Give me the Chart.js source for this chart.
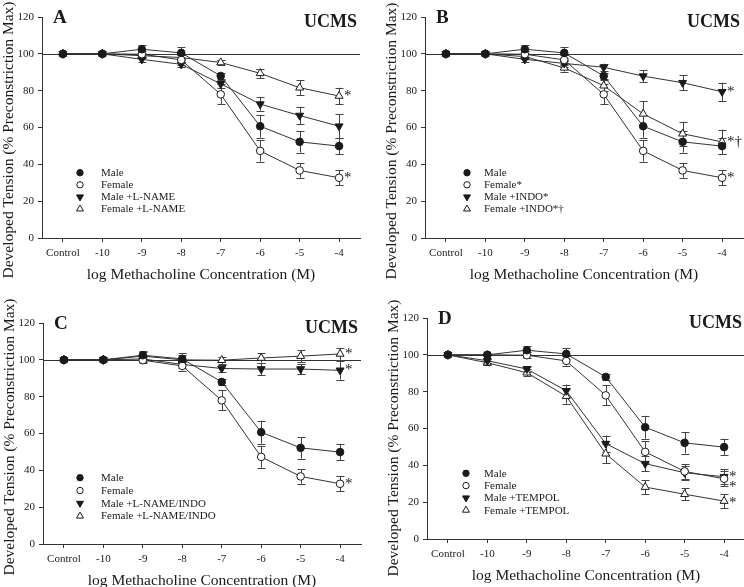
<!DOCTYPE html>
<html>
<head>
<meta charset="utf-8">
<script src="https://cdn.jsdelivr.net/npm/chart.js"></script>
<style>
  html, body { margin: 0; padding: 0; background: #fff; }
  body { position: relative; width: 744px; height: 587px; overflow: hidden; }
  canvas { position: absolute; }
</style>
</head>
<body>
<canvas id="panelA" width="384" height="290" style="left:0px;top:0px"></canvas>
<canvas id="panelB" width="384" height="290" style="left:383px;top:0px"></canvas>
<canvas id="panelC" width="384" height="306" style="left:1px;top:290px"></canvas>
<canvas id="panelD" width="384" height="301" style="left:385px;top:290px"></canvas>
<script>
// --- data ---
const doseLabels = ['Control', '-10', '-9', '-8', '-7', '-6', '-5', '-4'];
const yTicks = [0, 20, 40, 60, 80, 100, 120];

// shared control curves (same in every panel)
const male = [100, 100, 102.5, 100.5, 88, 60.7, 52.2, 49.9];
const maleSem = [0, 0, 2.2, 3, 1.5, 6.2, 5.8, 4.5];
const female = [100, 100, 99.8, 96.7, 78, 47.3, 36.7, 32.7];
const femaleSem = [0, 0, 1.5, 2.5, 5.5, 5.8, 4, 4];

// A: L-NAME
const maleLname = [100, 100, 97, 94.3, 83.7, 72.7, 66.5, 60.7];
const maleLnameSem = [0, 0, 1.2, 1.5, 2, 3.6, 4.8, 6.6];
const femaleLname = [100, 100, 99, 98, 95.3, 89.4, 81.6, 77.1];
const femaleLnameSem = [0, 0, 1, 1.2, 1.2, 2.5, 4, 4.5];

// B: INDO
const maleIndo = [100, 100, 97, 94.8, 92.7, 87.9, 84.3, 79.4];
const maleIndoSem = [0, 0, 1.5, 2, 2, 3.4, 4.2, 5];
const femaleIndo = [100, 100, 98.5, 92.4, 82.7, 67.4, 56.6, 52.2];
const femaleIndoSem = [0, 0, 1.2, 2, 3, 6.8, 6.5, 6.7];

// C: L-NAME/INDO
const maleBoth = [100, 100, 100.5, 97.5, 95.3, 95, 95, 94.3];
const maleBothSem = [0, 0, 1.5, 2, 2, 3.3, 2.7, 5];
const femaleBoth = [100, 100, 102, 100, 99.8, 101, 102, 103.2];
const femaleBothSem = [0, 0, 2, 2.5, 2, 2.5, 3.3, 3.3];

// D: TEMPOL
const maleTempol = [100, 96.8, 92.3, 80.5, 51.8, 40.9, 36, 33.8];
const maleTempolSem = [0, 1, 1.5, 3.3, 4.3, 4.2, 3.8, 4];
const femaleTempol = [100, 95.7, 90.3, 77.5, 46.3, 28.2, 24.3, 20.6];
const femaleTempolSem = [0, 1, 1.8, 4, 5.3, 3.8, 3.2, 3.9];

// --- styles ---
const serif = '"Liberation Serif", "Times New Roman", serif';
const ink = '#1a1a1a';
const lineInk = '#333';

const markers = {
  filledCircle: { pointStyle: 'circle', rotation: 0, radius: 3.8, fill: ink },
  openCircle:   { pointStyle: 'circle', rotation: 0, radius: 3.8, fill: '#fff' },
  filledDown:   { pointStyle: 'triangle', rotation: 180, radius: 4.6, fill: ink },
  openUp:       { pointStyle: 'triangle', rotation: 0, radius: 4.6, fill: '#fff' }
};

function series(label, values, sem, marker) {
  return {
    label,
    data: values.map((v, i) => ({ x: i, y: v })),
    sem,
    borderColor: lineInk,
    borderWidth: 1,
    tension: 0,
    pointStyle: marker.pointStyle,
    pointRotation: marker.rotation,
    pointRadius: marker.radius,
    pointBackgroundColor: marker.fill,
    pointBorderColor: ink,
    pointBorderWidth: 1,
    marker
  };
}

const panels = [
  {
    id: 'panelA', letter: 'A', padTop: 17, titleY: 140,
    legend: { x: 38, tx: 59, y: 155.7, gap: 12.1 },
    datasets: [
      series('Male', male, maleSem, markers.filledCircle),
      series('Female', female, femaleSem, markers.openCircle),
      series('Male +L-NAME', maleLname, maleLnameSem, markers.filledDown),
      series('Female +L-NAME', femaleLname, femaleLnameSem, markers.openUp)
    ],
    marks: [{ ds: 1, text: '*', dy: 0 }, { ds: 3, text: '*', dy: 0 }]
  },
  {
    id: 'panelB', letter: 'B', padTop: 17, titleY: 141,
    legend: { x: 42, tx: 59, y: 155.7, gap: 12.1 },
    datasets: [
      series('Male', male, maleSem, markers.filledCircle),
      series('Female*', female, femaleSem, markers.openCircle),
      series('Male +INDO*', maleIndo, maleIndoSem, markers.filledDown),
      series('Female +INDO*\u2020', femaleIndo, femaleIndoSem, markers.openUp)
    ],
    marks: [{ ds: 1, text: '*', dy: 0 }, { ds: 2, text: '*', dy: 0 }, { ds: 3, text: '*\u2020', dy: 0 }]
  },
  {
    id: 'panelC', letter: 'C', padTop: 33, titleY: 147,
    legend: { x: 37, tx: 58, y: 154.7, gap: 12.8 },
    datasets: [
      series('Male', male, maleSem, markers.filledCircle),
      series('Female', female, femaleSem, markers.openCircle),
      series('Male +L-NAME/INDO', maleBoth, maleBothSem, markers.filledDown),
      series('Female +L-NAME/INDO', femaleBoth, femaleBothSem, markers.openUp)
    ],
    marks: [{ ds: 1, text: '*', dy: 0 }, { ds: 2, text: '*', dy: 0 }, { ds: 3, text: '*', dy: 0 }]
  },
  {
    id: 'panelD', letter: 'D', padTop: 28, titleY: 148,
    legend: { x: 39, tx: 57, y: 155.3, gap: 12.3 },
    datasets: [
      series('Male', male, maleSem, markers.filledCircle),
      series('Female', female, femaleSem, markers.openCircle),
      series('Male +TEMPOL', maleTempol, maleTempolSem, markers.filledDown),
      series('Female +TEMPOL', femaleTempol, femaleTempolSem, markers.openUp)
    ],
    marks: [{ ds: 2, text: '*', dy: 0 }, { ds: 1, text: '*', dy: 8.7 }, { ds: 3, text: '*', dy: 2.3 }]
  }
];

// draws the 100% line, error bars, panel letter, UCMS, y title, legend and asterisks
function makeDecor(panel) {
  return {
    id: 'decor',
    beforeDatasetsDraw(chart) {
      const { ctx, chartArea, scales: { y } } = chart;
      ctx.save();
      ctx.strokeStyle = lineInk;
      ctx.lineWidth = 1;
      const y100 = Math.round(y.getPixelForValue(100)) + 0.5;
      ctx.beginPath();
      ctx.moveTo(chartArea.left, y100);
      ctx.lineTo(chartArea.right, y100);
      ctx.stroke();

      ctx.strokeStyle = '#444';
      chart.data.datasets.forEach((ds, i) => {
        const meta = chart.getDatasetMeta(i);
        ds.sem.forEach((e, j) => {
          if (!e) return;
          const px = Math.round(meta.data[j].x) + 0.5;
          const v = ds.data[j].y;
          const top = y.getPixelForValue(v + e);
          const bot = y.getPixelForValue(v - e);
          ctx.beginPath();
          ctx.moveTo(px, top); ctx.lineTo(px, bot);
          ctx.moveTo(px - 4, Math.round(top) + 0.5); ctx.lineTo(px + 4, Math.round(top) + 0.5);
          ctx.moveTo(px - 4, Math.round(bot) + 0.5); ctx.lineTo(px + 4, Math.round(bot) + 0.5);
          ctx.stroke();
        });
      });
      ctx.restore();
    },
    afterDraw(chart) {
      const { ctx, chartArea } = chart;
      ctx.save();
      ctx.fillStyle = ink;

      // panel letter and group tag
      ctx.textBaseline = 'alphabetic';
      ctx.textAlign = 'left';
      ctx.font = 'bold 19px ' + serif;
      ctx.fillText(panel.letter, chartArea.left + 11, chartArea.top + 6.3);
      ctx.textAlign = 'right';
      ctx.font = 'bold 18px ' + serif;
      ctx.fillText('UCMS', chartArea.right - 3, chartArea.top + 10);

      // y axis title
      ctx.save();
      ctx.translate(9, panel.titleY);
      ctx.rotate(-Math.PI / 2);
      ctx.textAlign = 'center';
      ctx.textBaseline = 'middle';
      ctx.font = '15.5px ' + serif;
      ctx.fillText('Developed Tension (% Preconstriction Max)', 0, 0);
      ctx.restore();

      // legend
      const lg = panel.legend;
      ctx.font = '11px ' + serif;
      ctx.textAlign = 'left';
      ctx.textBaseline = 'middle';
      chart.data.datasets.forEach((ds, i) => {
        const ly = chartArea.top + lg.y + i * lg.gap;
        const mk = ds.marker;
        ctx.fillStyle = mk.fill;
        ctx.strokeStyle = ink;
        ctx.lineWidth = 1;
        Chart.helpers.drawPoint(ctx, {
          pointStyle: mk.pointStyle, rotation: mk.rotation,
          radius: mk.radius - 0.6, borderWidth: 1
        }, chartArea.left + lg.x, ly);
        ctx.fillStyle = ink;
        ctx.fillText(ds.label, chartArea.left + lg.tx, ly + 0.5);
      });

      // significance marks at the last dose
      ctx.font = '15px ' + serif;
      ctx.textBaseline = 'alphabetic';
      panel.marks.forEach(m => {
        const pt = chart.getDatasetMeta(m.ds).data[doseLabels.length - 1];
        ctx.fillText(m.text, pt.x + 5, pt.y + 4 + m.dy);
      });
      ctx.restore();
    }
  };
}

function buildChart(panel) {
  const ctx = document.getElementById(panel.id).getContext('2d');
  return new Chart(ctx, {
    type: 'line',
    data: { datasets: panel.datasets },
    options: {
      responsive: false,
      animation: false,
      layout: { padding: { top: panel.padTop, right: 24, left: 0, bottom: 0 } },
      plugins: { legend: { display: false }, tooltip: { enabled: false } },
      scales: {
        x: {
          type: 'linear',
          min: -0.53,
          max: doseLabels.length - 1 + 0.53,
          afterBuildTicks: s => { s.ticks = doseLabels.map((_, i) => ({ value: i })); },
          afterFit: s => { s.height = 52; },
          ticks: {
            callback: v => doseLabels[v],
            color: ink,
            font: { family: serif, size: 11 },
            padding: 5,
            maxRotation: 0,
            autoSkip: false
          },
          grid: { drawOnChartArea: false, drawTicks: true, tickLength: 4, color: lineInk },
          border: { display: true, color: lineInk, width: 1 },
          title: {
            display: true,
            text: 'log Methacholine Concentration (M)',
            color: ink,
            font: { family: serif, size: 15.5 },
            padding: { top: 0, bottom: 6 }
          }
        },
        y: {
          min: 0,
          max: 120,
          afterBuildTicks: s => { s.ticks = yTicks.map(v => ({ value: v })); },
          afterFit: s => { s.width = 42; },
          ticks: {
            color: ink,
            font: { family: serif, size: 11 },
            padding: 4
          },
          grid: { drawOnChartArea: false, drawTicks: true, tickLength: 4, color: lineInk },
          border: { display: true, color: lineInk, width: 1 }
        }
      }
    },
    plugins: [makeDecor(panel)]
  });
}

panels.forEach(buildChart);
</script>
</body>
</html>
